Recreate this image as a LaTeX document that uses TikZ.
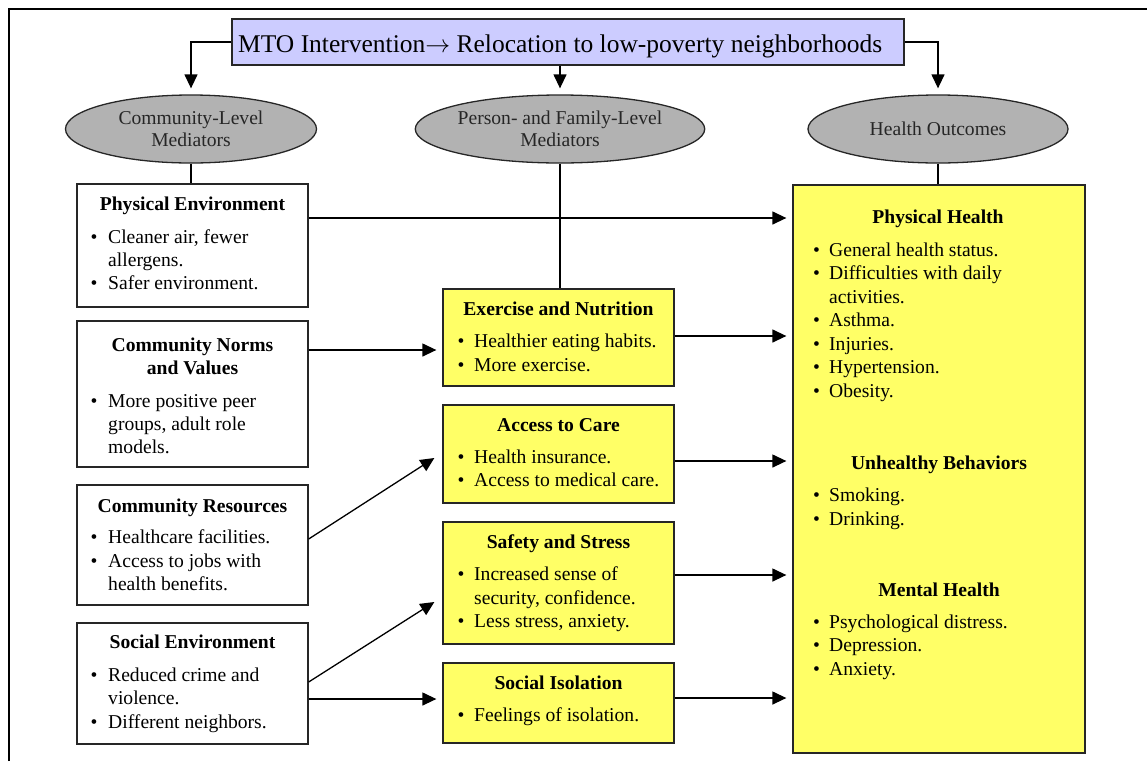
\documentclass[tikz,border=0pt]{standalone}
\usepackage{fontspec}
\setmainfont{Liberation Serif}
\usetikzlibrary{arrows.meta,shapes.geometric}
\definecolor{titlefill}{HTML}{CCCCFF}
\definecolor{yellowfill}{HTML}{FFFF66}
\definecolor{ellgray}{HTML}{B2B2B2}
\newcommand\bodyfont{\fontsize{19.6}{22}\selectfont}
\newcommand\titlefont{\fontsize{25.5}{30}\selectfont}
\tikzset{
  box/.style={draw=black!85, line width=1.3pt, rectangle, inner sep=0pt},
  wbox/.style={box, fill=white},
  ybox/.style={box, fill=yellowfill},
  ell/.style={draw=black!85, ellipse, fill=ellgray, line width=1.3pt, inner sep=0pt, align=center, font=\bodyfont, text=black!85},
  txt/.style={anchor=base west, inner sep=0pt, font=\bodyfont},
  hd/.style={anchor=base, inner sep=0pt, font=\bodyfont\bfseries},
  dot/.style={anchor=base, inner sep=0pt, font=\bodyfont},
  arr/.style={-{Triangle[length=14pt,width=13pt]}, line width=1.3pt, shorten >=6pt},
  ln/.style={line width=1.3pt},
}
% bullet line: name, dot x, text x, baseline y, text
\newcommand\bli[5]{\node[dot] (#1d) at (#2,#4) {•}; \node[txt] (#1) at (#3,#4) {#5};}
\newcommand\cnt[4]{\node[txt] (#1) at (#2,#3) {#4};}
\begin{document}
\begin{tikzpicture}[x=1pt,y=-1pt]
\useasboundingbox (0,0) rectangle (1147,761);
% frame
\draw[ln] (9,761) -- (9,9) -- (1147,9);

% title
\node[box, fill=titlefill, minimum width=672pt, minimum height=46pt] (title) at (568,42) {};
\node[anchor=base west, inner sep=0pt, font=\titlefont] (titletext) at (238,52) {MTO Intervention$\rightarrow$ Relocation to low-poverty neighborhoods};

% ellipses
\node[ell, minimum width=251pt, minimum height=68pt] (e1) at (191,129) {Community-Level\\Mediators};
\node[ell, minimum width=261pt, minimum height=68pt] (e2) at (560,129) {Person- and Family-Level\\Mediators};
\node[ell, minimum width=260pt, minimum height=68pt] (e3) at (938,129) {Health Outcomes};

% left boxes
\node[wbox, minimum width=231pt, minimum height=123pt] (pe) at (192.5,245.5) {};
\node[wbox, minimum width=231pt, minimum height=146pt] (cnv) at (192.5,394) {};
\node[wbox, minimum width=231pt, minimum height=120pt] (cres) at (192.5,545) {};
\node[wbox, minimum width=231pt, minimum height=121pt] (senv) at (192.5,683.5) {};

% middle boxes
\node[ybox, minimum width=231pt, minimum height=97pt] (exn) at (558.5,337.5) {};
\node[ybox, minimum width=231pt, minimum height=98pt] (atc) at (558.5,454) {};
\node[ybox, minimum width=231pt, minimum height=122pt] (sas) at (558.5,583) {};
\node[ybox, minimum width=231pt, minimum height=80pt] (siso) at (558.5,703) {};

% health box
\node[ybox, minimum width=292pt, minimum height=568pt] (hb) at (939,469) {};

% ---- texts: left
\node[hd] (peh) at (192.5,210) {Physical Environment};
\bli{pe1}{94}{108}{243}{Cleaner air, fewer}
\cnt{pe1b}{108}{266}{allergens.}
\bli{pe2}{94}{108}{289}{Safer environment.}

\node[hd] (cnvh) at (192.5,351) {Community Norms};
\node[hd] (cnvh2) at (192.5,374) {and Values};
\bli{cnv1}{94}{108}{407}{More positive peer}
\cnt{cnv1b}{108}{430}{groups, adult role}
\cnt{cnv1c}{108}{453}{models.}

\node[hd] (cresh) at (192.5,512) {Community Resources};
\bli{cres1}{94}{108}{543}{Healthcare facilities.}
\bli{cres2}{94}{108}{567}{Access to jobs with}
\cnt{cres2b}{108}{590}{health benefits.}

\node[hd] (senvh) at (192.5,648) {Social Environment};
\bli{senv1}{94}{108}{681}{Reduced crime and}
\cnt{senv1b}{108}{704}{violence.}
\bli{senv2}{94}{108}{728}{Different neighbors.}

% ---- texts: middle
\node[hd] (exnh) at (558.5,315) {Exercise and Nutrition};
\bli{exn1}{461}{474}{347}{Healthier eating habits.}
\bli{exn2}{461}{474}{371}{More exercise.}

\node[hd] (atch) at (558.5,431) {Access to Care};
\bli{atc1}{461}{474}{463}{Health insurance.}
\bli{atc2}{461}{474}{486}{Access to medical care.}

\node[hd] (sash) at (558.5,548) {Safety and Stress};
\bli{sas1}{461}{474}{580}{Increased sense of}
\cnt{sas1b}{474}{604}{security, confidence.}
\bli{sas2}{461}{474}{627}{Less stress, anxiety.}

\node[hd] (sisoh) at (558.5,689) {Social Isolation};
\bli{siso1}{461}{474}{721}{Feelings of isolation.}

% ---- texts: health
\node[hd] (phh) at (938,223) {Physical Health};
\bli{ph1}{816.5}{829}{256}{General health status.}
\bli{ph2}{816.5}{829}{279.5}{Difficulties with daily}
\cnt{ph2b}{829}{303}{activities.}
\bli{ph3}{816.5}{829}{326.5}{Asthma.}
\bli{ph4}{816.5}{829}{350}{Injuries.}
\bli{ph5}{816.5}{829}{373.5}{Hypertension.}
\bli{ph6}{816.5}{829}{397}{Obesity.}

\node[hd] (ubh) at (939,469) {Unhealthy Behaviors};
\bli{ub1}{816.5}{829}{501}{Smoking.}
\bli{ub2}{816.5}{829}{525}{Drinking.}

\node[hd] (mhh) at (939,596) {Mental Health};
\bli{mh1}{816.5}{829}{628}{Psychological distress.}
\bli{mh2}{816.5}{829}{651.5}{Depression.}
\bli{mh3}{816.5}{829}{675}{Anxiety.}

% ---- connectors from title
\draw[arr] (title.west) -| (e1.north);
\draw[arr] (e2.north |- title.south) -- (e2.north);
\draw[arr] (title.east) -| (e3.north);

% ellipse to boxes
\draw[ln] (e1.south) -- (e1.south |- pe.north);
\draw[ln] (e2.south) -- (e2.south |- exn.north);
\draw[ln] (e3.south) -- (e3.south |- hb.north);

% horizontal arrows
\draw[arr] ([yshift=27.5pt]pe.east) -- ([yshift=27.5pt]pe.east -| hb.west);
\draw[arr] ([yshift=44pt]cnv.east) -- ([yshift=44pt]cnv.east -| exn.west);
\draw[arr] ([yshift=1.5pt]exn.east) -- ([yshift=1.5pt]exn.east -| hb.west);
\draw[arr] ([yshift=-7pt]atc.east) -- ([yshift=-7pt]atc.east -| hb.west);
\draw[arr] ([yshift=8pt]sas.east) -- ([yshift=8pt]sas.east -| hb.west);
\draw[arr] ([yshift=5pt]siso.east) -- ([yshift=5pt]siso.east -| hb.west);
\draw[arr] ([yshift=-15.5pt]senv.east) -- ([yshift=-15.5pt]senv.east -| siso.west);

% diagonal arrows
\draw[-{Triangle[length=14pt,width=13pt]}, line width=1.3pt] ([yshift=6pt]cres.east) -- ([xshift=-8pt,yshift=-4pt]atc.west);
\draw[-{Triangle[length=14pt,width=13pt]}, line width=1.3pt] ([yshift=1.5pt]senv.east) -- ([xshift=-8pt,yshift=-19pt]sas.west);
\end{tikzpicture}
\end{document}
